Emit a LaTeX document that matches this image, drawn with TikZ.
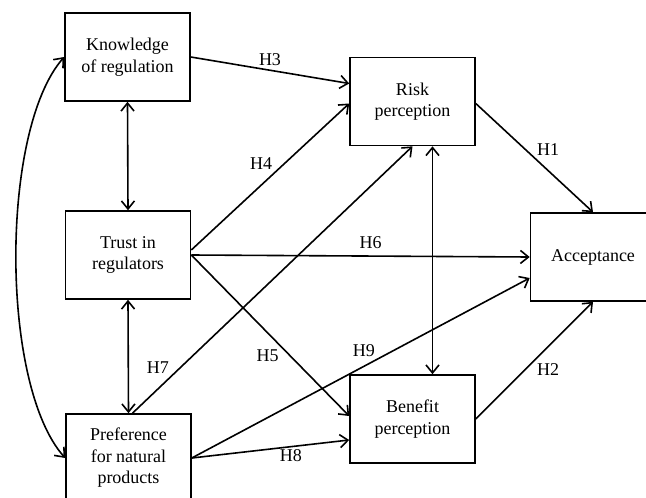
\documentclass[tikz,border=0pt]{standalone}
\usepackage{fontspec}
\setmainfont{Liberation Serif}
\usetikzlibrary{arrows.meta}

\begin{document}
\begin{tikzpicture}[
            x = 1pt, y = -1pt, % pixel grid of the figure
            > = {Straight Barb[length=8pt,width=13pt,line width=1.6pt]}, % arrow head style
            line width = 1.6pt, % line style
            font = \fontsize{18}{21.5}\selectfont
        ]

        \tikzstyle{box}=[
        draw = black,
        rectangle,
        align = center,
        minimum width = 125pt,
        minimum height = 88pt
        ]
        \tikzstyle{hyp}=[
        inner sep = 2pt
        ]

        \path[use as bounding box, clip] (0,0) rectangle (646,498);

        \node[box] (know) at (127.5,57) {Knowledge\\of regulation};
        \node[box] (trust) at (128,255) {Trust in\\regulators};
        \node[box] (pref) at (128.5,458) {Preference\\for natural\\products};
        \node[box] (risk) at (412.5,101.5) {Risk\\perception};
        \node[box] (ben) at (412.5,419) {Benefit\\perception};
        \node[box] (acc) at (593,257) {Acceptance};

        % correlations
        \draw[<->] (know.south) -- (trust.north);
        \draw[<->] (trust.south) -- (pref.north);
        \draw[<->] ([xshift=20pt]risk.south) -- ([xshift=20pt]ben.north);
        \draw[<->] (know.west) .. controls (0,130) and (0,385) .. (pref.west);

        % hypotheses
        \path[->] (know.east) edge node[hyp, pos=.5, above=2pt] {H3} ([yshift=18pt]risk.west);
        \path[->] ([yshift=5pt]trust.east) edge node[hyp, pos=.53, above left] {H4} ([yshift=-2pt]risk.west);
        \path[->] (trust.east) edge node[hyp, pos=.53, above=5pt] {H6} (acc.west);
        \path[->] (trust.east) edge node[hyp, pos=.57, below left] {H5} ([yshift=3pt]ben.west);
        \path[->] ([xshift=4pt]pref.north) edge node[hyp, pos=.14, above left] {H7} (risk.south);
        \path[->] (pref.east) edge node[hyp, pos=.63, below] {H8} ([yshift=-21pt]ben.west);
        \path[->] (pref.east) edge node[hyp, pos=.55, above left] {H9} ([yshift=-21pt]acc.west);
        \path[->] ([yshift=-2pt]risk.east) edge node[hyp, pos=.5, above right] {H1} (acc.north);
        \path[->] (ben.east) edge node[hyp, pos=.5, below right] {H2} (acc.south);
    \end{tikzpicture}
\end{document}
